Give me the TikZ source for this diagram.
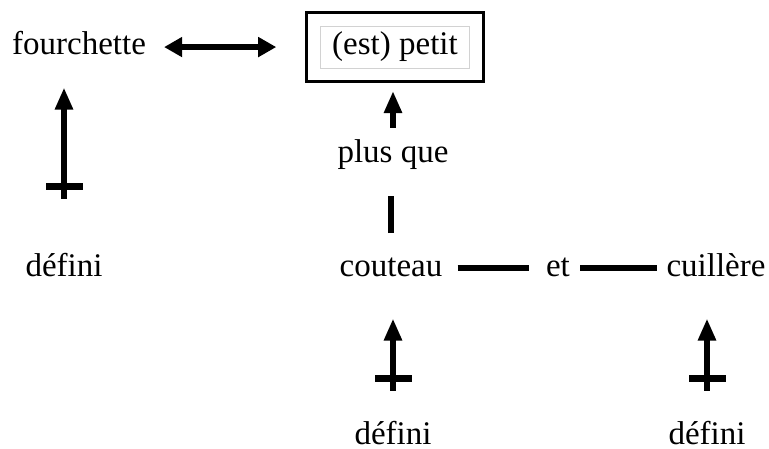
\documentclass[tikz,border=0pt]{standalone}
\usepackage{fontspec}
\setmainfont{Liberation Serif}
\usetikzlibrary{arrows.meta,fit,decorations.markings}
\begin{document}
\begin{tikzpicture}[x=1pt,y=-1pt,
	word/.style={font=\fontsize{33}{39}\selectfont,inner sep=0pt,anchor=base},
	thickline/.style={line width=6pt},
	uparrow/.style={line width=6pt,-{Triangle[length=22pt,width=17pt]}},
	biarrow/.style={line width=6pt,{Triangle[length=18pt,width=19pt]}-{Triangle[length=18pt,width=19pt]}},
	definedby/.style={uparrow,postaction={decorate},
		decoration={markings,mark=at position 12pt with {\draw[-,line width=7pt,shorten >=0pt,shorten <=0pt] (0,-18.5pt) -- (0,18.5pt);}}}]
	\useasboundingbox (0,0) rectangle (769,449);
	% words
	\node[word] (fourchette) at (79,55) {fourchette};
	\node[word,draw=gray!35,line width=1pt,inner xsep=12pt,inner ysep=6pt] (petit) at (395,55) {(est) petit};
	\node[draw,line width=3pt,fit=(petit),inner sep=13pt] (petitbox) {};
	\node[word] (plusque) at (393,163) {plus que};
	\node[word] (couteau) at (391,277) {couteau};
	\node[word] (et) at (558,277) {et};
	\node[word] (cuillere) at (716,277) {cuillère};
	\node[word] (d1) at (64,277) {défini};
	\node[word] (d2) at (393,444) {défini};
	\node[word] (d3) at (707,444) {défini};
	% links
	\draw[biarrow,shorten <=18pt,shorten >=29pt] (fourchette.east |- petitbox.west) -- (petitbox.west);
	\draw[uparrow,shorten <=12pt,shorten >=8pt] (plusque.north) -- (plusque.north |- petitbox.south);
	\draw[thickline,shorten <=25pt,shorten >=26pt] (couteau.north) -- (couteau.north |- plusque.south);
	\draw[thickline,shorten <=15pt,shorten >=17pt] (couteau.east) -- (et.west);
	\draw[thickline,shorten <=10pt,shorten >=9pt] (et.east) -- (et.east -| cuillere.west);
	\draw[definedby,shorten >=32pt] ([yshift=55pt]d1.north) -- (d1.north |- fourchette.south);
	\draw[definedby,shorten >=41pt] ([yshift=30pt]d2.north) -- (d2.north |- couteau.south);
	\draw[definedby,shorten >=41pt] ([yshift=30pt]d3.north) -- (d3.north |- cuillere.south);
\end{tikzpicture}
\end{document}
